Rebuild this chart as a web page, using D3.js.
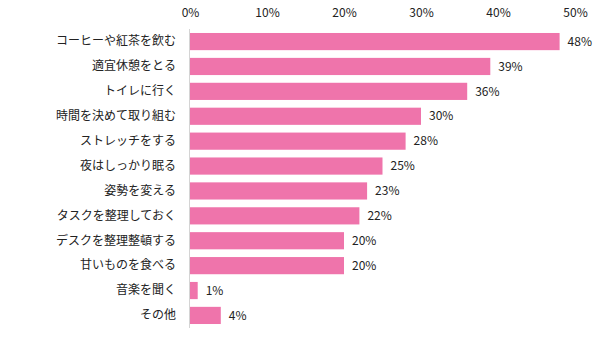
<!DOCTYPE html>
<html>
<head>
<meta charset="utf-8">
<script src="https://cdn.jsdelivr.net/npm/d3@7"></script>
<style>
  html, body { margin: 0; padding: 0; background: #fff; }
  svg { display: block; }
  text { font-family: "Noto Sans CJK JP", "Noto Sans", sans-serif; fill: #222; }
</style>
</head>
<body>
<svg id="chart" width="602" height="340"></svg>
<script>
const categories = [
  "コーヒーや紅茶を飲む", "適宜休憩をとる", "トイレに行く", "時間を決めて取り組む",
  "ストレッチをする", "夜はしっかり眠る", "姿勢を変える", "タスクを整理しておく",
  "デスクを整理整頓する", "甘いものを食べる", "音楽を聞く", "その他"
];
const values = [48, 39, 36, 30, 28, 25, 23, 22, 20, 20, 1, 4];
const tickValues = [0, 10, 20, 30, 40, 50];

const svg = d3.select("#chart");

const x = d3.scaleLinear().domain([0, 50]).range([190, 575]);
const y = d3.scaleBand().domain(categories).range([29, 328]).paddingInner(0.31).paddingOuter(0.16);

// top axis: percentage labels only, no domain line or ticks
const xAxis = d3.axisTop(x).tickValues(tickValues).tickFormat(d => d + "%").tickSize(0).tickPadding(0);
const gx = svg.append("g").attr("transform", "translate(0,17)").call(xAxis);
gx.select(".domain").remove();
gx.selectAll("text").style("font-size", "12px").style("font-family", '"Noto Sans CJK JP", sans-serif').attr("fill", "#222");

// bars
svg.append("g").selectAll("rect")
  .data(values)
  .join("rect")
  .attr("x", x(0))
  .attr("y", (d, i) => y(categories[i]))
  .attr("width", d => x(d) - x(0))
  .attr("height", y.bandwidth())
  .attr("fill", "#ef74ab");

// vertical baseline
svg.append("line")
  .attr("x1", x(0) - 0.5).attr("x2", x(0) - 0.5)
  .attr("y1", 29).attr("y2", 328)
  .attr("stroke", "#d4d4d4").attr("stroke-width", 1);

// category labels
const yAxis = d3.axisLeft(y).tickSize(0).tickPadding(14);
const gy = svg.append("g").attr("transform", `translate(${x(0)},0)`).call(yAxis);
gy.select(".domain").remove();
gy.selectAll("text").style("font-size", "12px").style("font-family", '"Noto Sans CJK JP", sans-serif').attr("fill", "#222");

// value labels
svg.append("g").selectAll("text")
  .data(values)
  .join("text")
  .attr("x", d => x(d) + 8)
  .attr("y", (d, i) => y(categories[i]) + y.bandwidth() / 2)
  .attr("dy", "0.35em")
  .style("font-size", "12px")
  .text(d => d + "%");
</script>
</body>
</html>
